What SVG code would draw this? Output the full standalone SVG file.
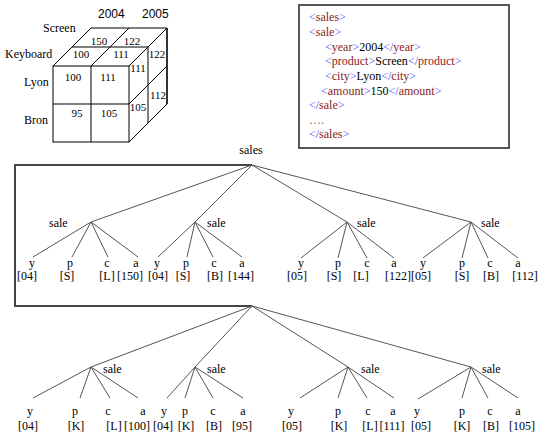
<svg xmlns="http://www.w3.org/2000/svg" width="545" height="437" viewBox="0 0 545 437">
<style>
.t{font-family:"Liberation Serif","Times New Roman",serif;font-size:12px;fill:#000}
.s{font-family:"Liberation Sans",Arial,sans-serif;font-size:12px;fill:#000}
.n{font-family:"Liberation Serif","Times New Roman",serif;font-size:11px;fill:#000;text-anchor:middle}
.m{text-anchor:middle}
.cube{stroke:#000;stroke-width:1;fill:none}
.e{stroke:#555;stroke-width:1;fill:none}
.br{stroke:#444;stroke-width:2;fill:none}
.b{fill:#4a4aff}
.g{fill:#8b1c1c}
</style>
<rect width="545" height="437" fill="#fff"/>
<g id="cube">
<rect class="cube" x="53" y="66" width="76" height="76"/>
<line class="cube" x1="91" y1="66" x2="91" y2="142"/>
<line class="cube" x1="53" y1="104" x2="129" y2="104"/>
<polyline class="cube" points="53,66 91,28 167,28 129,66"/>
<line class="cube" x1="91" y1="66" x2="129" y2="28"/>
<line class="cube" x1="72" y1="47" x2="148" y2="47"/>
<polyline class="cube" points="129,142 167,104"/>
<line stroke="#000" stroke-width="1.6" x1="167" y1="28" x2="167" y2="104"/>
<line class="cube" x1="148" y1="47" x2="148" y2="123"/>
<line class="cube" x1="129" y1="104" x2="167" y2="66"/>
<text class="s" x="98" y="18">2004</text>
<text class="s" x="142" y="18">2005</text>
<text class="t" x="43" y="32">Screen</text>
<text class="t" x="5" y="58">Keyboard</text>
<text class="t" x="24" y="86">Lyon</text>
<text class="t" x="24" y="124">Bron</text>
<text class="n" x="73" y="81">100</text>
<text class="n" x="108" y="81">111</text>
<text class="n" x="77" y="117">95</text>
<text class="n" x="109" y="117">105</text>
<text class="n" x="81" y="58">100</text>
<text class="n" x="121" y="58">111</text>
<text class="n" x="99" y="45">150</text>
<text class="n" x="132" y="45">122</text>
<text class="n" x="138" y="72">111</text>
<text class="n" x="157" y="58">122</text>
<text class="n" x="158" y="99">112</text>
<text class="n" x="138" y="111">105</text>
</g>
<g id="xml">
<rect x="299" y="5" width="210" height="143" fill="#fff" stroke="#555" stroke-width="2"/>
<text class="t" x="309" y="21"><tspan class="b">&lt;</tspan><tspan class="g">sales</tspan><tspan class="b">&gt;</tspan></text>
<text class="t" x="309" y="36"><tspan class="b">&lt;</tspan><tspan class="g">sale</tspan><tspan class="b">&gt;</tspan></text>
<text class="t" x="325" y="51"><tspan class="b">&lt;</tspan><tspan class="g">year</tspan><tspan class="b">&gt;</tspan>2004<tspan class="b">&lt;/</tspan><tspan class="g">year</tspan><tspan class="b">&gt;</tspan></text>
<text class="t" x="325" y="65"><tspan class="b">&lt;</tspan><tspan class="g">product</tspan><tspan class="b">&gt;</tspan>Screen<tspan class="b">&lt;/</tspan><tspan class="g">product</tspan><tspan class="b">&gt;</tspan></text>
<text class="t" x="325" y="80"><tspan class="b">&lt;</tspan><tspan class="g">city</tspan><tspan class="b">&gt;</tspan>Lyon<tspan class="b">&lt;/</tspan><tspan class="g">city</tspan><tspan class="b">&gt;</tspan></text>
<text class="t" x="321" y="95"><tspan class="b">&lt;</tspan><tspan class="g">amount</tspan><tspan class="b">&gt;</tspan>150<tspan class="b">&lt;/</tspan><tspan class="g">amount</tspan><tspan class="b">&gt;</tspan></text>
<text class="t" x="309" y="109"><tspan class="b">&lt;/</tspan><tspan class="g">sale</tspan><tspan class="b">&gt;</tspan></text>
<text class="t" x="309" y="124" style="fill:#777">….</text>
<text class="t" x="309" y="138"><tspan class="b">&lt;/</tspan><tspan class="g">sales</tspan><tspan class="b">&gt;</tspan></text>
</g>
<g id="connectors">
<polyline class="br" points="252,165 15,165 15,306 252,306"/>
<path class="e" d="M252,165L91,222M252,165L195,222M252,165L347,222M252,165L471,222
M91,222L33,257M91,222L72,257M91,222L108,257M91,222L138,257
M195,222L158,257M195,222L187,257M195,222L213,257M195,222L242,257
M347,222L301,258M347,222L338,258M347,222L367,258M347,222L394,258
M471,222L423,258M471,222L462,258M471,222L488,258M471,222L518,258
M252,306L91,367M252,306L195,367M252,306L348,367M252,306L471,367
M91,367L33,398M91,367L80,398M91,367L110,398M91,367L138,398
M195,367L167,398M195,367L185,398M195,367L213,398M195,367L243,398
M348,367L300,398M348,367L338,398M348,367L367,398M348,367L394,398
M471,367L418,399M471,367L462,398M471,367L488,398M471,367L518,398"/>
</g>
<g id="root1"><text class="t m" x="251" y="154">sales</text></g>
<g id="sale1a"><text class="t" x="49" y="227">sale</text>
<text class="t m" x="32" y="267">y</text><text class="t m" x="70" y="267">p</text><text class="t m" x="107" y="267">c</text><text class="t m" x="136" y="267">a</text>
<text class="t m" x="27" y="280">[04]</text><text class="t m" x="67" y="280">[S]</text><text class="t m" x="107" y="280">[L]</text><text class="t m" x="130" y="280">[150]</text></g>
<g id="sale1b"><text class="t" x="207" y="227">sale</text>
<text class="t m" x="157" y="267">y</text><text class="t m" x="186" y="267">p</text><text class="t m" x="214" y="267">c</text><text class="t m" x="242" y="267">a</text>
<text class="t m" x="158" y="280">[04]</text><text class="t m" x="183" y="280">[S]</text><text class="t m" x="215" y="280">[B]</text><text class="t m" x="241" y="280">[144]</text></g>
<g id="sale1c"><text class="t" x="357" y="227">sale</text>
<text class="t m" x="301" y="267">y</text><text class="t m" x="338" y="267">p</text><text class="t m" x="367" y="267">c</text><text class="t m" x="394" y="267">a</text>
<text class="t m" x="297" y="280">[05]</text><text class="t m" x="334" y="280">[S]</text><text class="t m" x="361" y="280">[L]</text><text class="t m" x="398" y="280">[122]</text></g>
<g id="sale1d"><text class="t" x="481" y="227">sale</text>
<text class="t m" x="423" y="267">y</text><text class="t m" x="462" y="267">p</text><text class="t m" x="490" y="267">c</text><text class="t m" x="518" y="267">a</text>
<text class="t m" x="421" y="280">[05]</text><text class="t m" x="462" y="280">[S]</text><text class="t m" x="491" y="280">[B]</text><text class="t m" x="525" y="280">[112]</text></g>
<g id="sale2a"><text class="t" x="103" y="373">sale</text>
<text class="t m" x="30" y="415">y</text><text class="t m" x="75" y="415">p</text><text class="t m" x="108" y="415">c</text><text class="t m" x="143" y="415">a</text>
<text class="t m" x="28" y="430">[04]</text><text class="t m" x="76" y="430">[K]</text><text class="t m" x="114" y="430">[L]</text><text class="t m" x="137" y="430">[100]</text></g>
<g id="sale2b"><text class="t" x="207" y="373">sale</text>
<text class="t m" x="164" y="415">y</text><text class="t m" x="185" y="415">p</text><text class="t m" x="213" y="415">c</text><text class="t m" x="243" y="415">a</text>
<text class="t m" x="163" y="430">[04]</text><text class="t m" x="186" y="430">[K]</text><text class="t m" x="214" y="430">[B]</text><text class="t m" x="242" y="430">[95]</text></g>
<g id="sale2c"><text class="t" x="361" y="373">sale</text>
<text class="t m" x="291" y="415">y</text><text class="t m" x="338" y="415">p</text><text class="t m" x="368" y="415">c</text><text class="t m" x="393" y="415">a</text>
<text class="t m" x="292" y="430">[05]</text><text class="t m" x="339" y="430">[K]</text><text class="t m" x="370" y="430">[L]</text><text class="t m" x="392" y="430">[111]</text></g>
<g id="sale2d"><text class="t" x="482" y="373">sale</text>
<text class="t m" x="417" y="415">y</text><text class="t m" x="462" y="415">p</text><text class="t m" x="490" y="415">c</text><text class="t m" x="518" y="415">a</text>
<text class="t m" x="421" y="430">[05]</text><text class="t m" x="462" y="430">[K]</text><text class="t m" x="491" y="430">[B]</text><text class="t m" x="522" y="430">[105]</text></g>
</svg>
